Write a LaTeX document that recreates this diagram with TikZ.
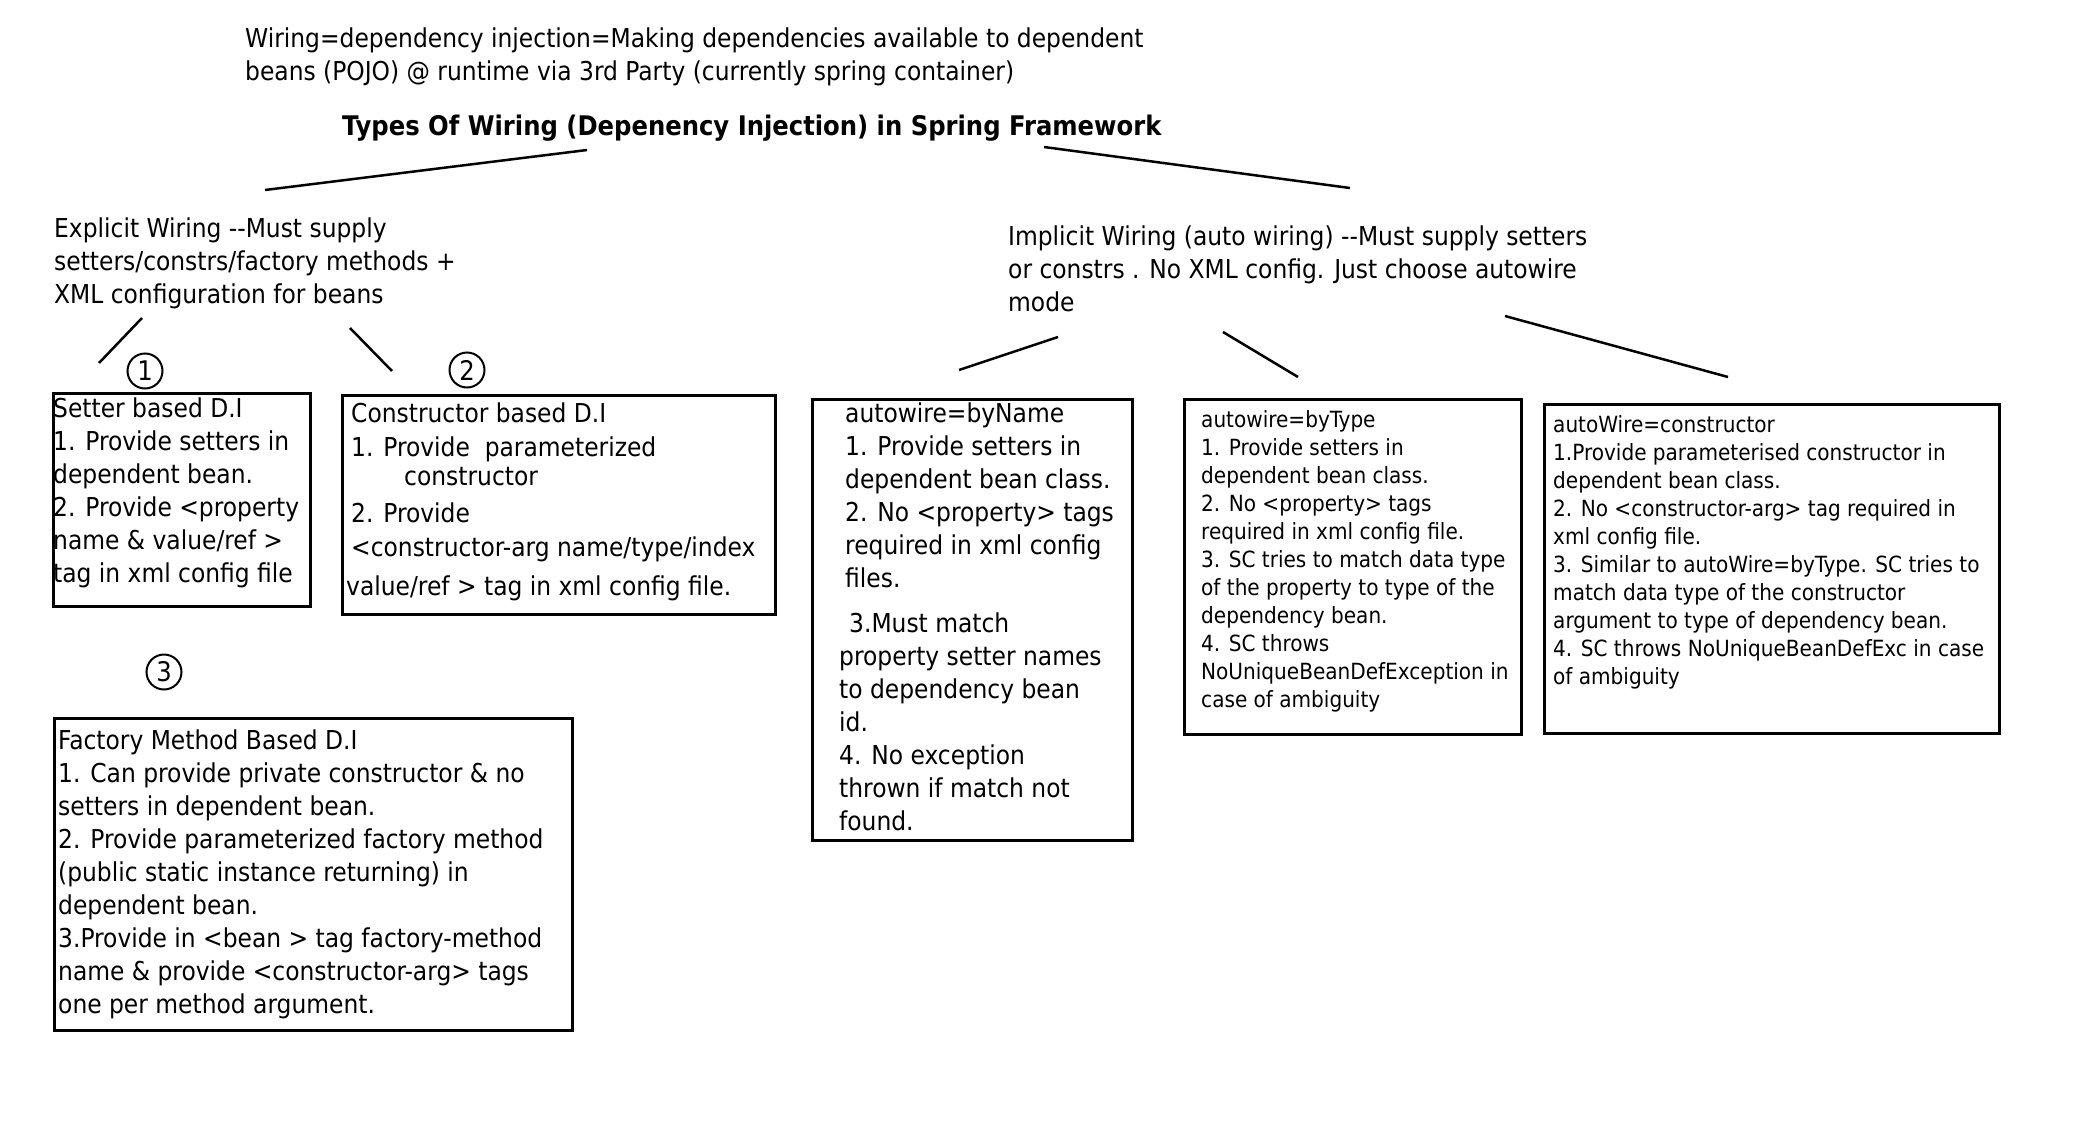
\documentclass[tikz,border=0pt]{standalone}
\usepackage{fontspec}
\setmainfont{DejaVu Sans Condensed}
\begin{document}
\begin{tikzpicture}[x=1pt,y=-1pt,
  box/.style={draw,line width=3pt,anchor=north west,inner sep=0pt},
  txt/.style={anchor=north west,inner sep=0pt,align=left,font=\fontsize{26}{33}\selectfont},
  stxt/.style={anchor=north west,inner sep=0pt,align=left,font=\fontsize{22.3}{28}\selectfont},
  link/.style={line width=2.5pt},
  num/.style={circle,draw,line width=2pt,minimum size=35pt,inner sep=0pt,font=\fontsize{27}{30}\selectfont}]
\useasboundingbox (0,0) rectangle (2079,1140);
\fill[white] (0,0) rectangle (2079,1140);

% headings
\node[txt] (intro) at (245,24) {\strut Wiring=dependency injection=Making dependencies available to dependent\\beans (POJO) @ runtime via 3rd Party (currently spring container)};
\node[txt,font=\fontsize{27}{33}\selectfont\bfseries] (title) at (342,112) {\strut Types Of Wiring (Depenency Injection) in Spring Framework};

\node[txt] (explicit) at (54,214) {\strut Explicit Wiring -{}-Must supply\\setters/constrs/factory methods +\\XML configuration for beans};
\node[txt] (implicit) at (1008,222) {\strut Implicit Wiring (auto wiring) -{}-Must supply setters\\or constrs . No XML config. Just choose autowire\\mode};

% connectors
\coordinate (a1) at (587,150); \coordinate (a2) at (265,190);
\coordinate (b1) at (1044,147); \coordinate (b2) at (1350,188);
\coordinate (c1) at (142,318); \coordinate (c2) at (99,363);
\coordinate (d1) at (350,328); \coordinate (d2) at (392,371);
\coordinate (e1) at (1058,337); \coordinate (e2) at (959,370);
\coordinate (f1) at (1223,332); \coordinate (f2) at (1298,377);
\coordinate (g1) at (1505,316); \coordinate (g2) at (1728,377);
\draw[link] (a1) -- (a2);
\draw[link] (b1) -- (b2);
\draw[link] (c1) -- (c2);
\draw[link] (d1) -- (d2);
\draw[link] (e1) -- (e2);
\draw[link] (f1) -- (f2);
\draw[link] (g1) -- (g2);

% numbers
\node[num] (n1) at (145,371) {1};
\node[num] (n2) at (467,370) {2};
\node[num] (n3) at (164,672) {3};

% setter
\node[box,minimum width=257pt,minimum height=213pt] (setterbox) at (52,392) {};
\node[txt] (setter) at (53,394) {\strut Setter based D.I\\1. Provide setters in\\dependent bean.\\2. Provide <property\\name \& value/ref >\\tag in xml config file};

% constructor
\node[box,minimum width=433pt,minimum height=219pt] (ctorbox) at (341,394) {};
\node[txt] (ctor) at (351,399) {\strut Constructor based D.I\\[1pt]1. Provide\ \ parameterized\\[-4pt]\hspace*{53pt}constructor\\[4pt]2. Provide\\[1pt]<constructor-arg name/type/index\\[6pt]\hspace*{-5pt}value/ref > tag in xml config file.};

% byName
\node[box,minimum width=320pt,minimum height=441pt] (bynamebox) at (811,398) {};
\node[txt] (byname) at (839,399) {\strut\hspace*{6pt}autowire=byName\\\hspace*{6pt}1. Provide setters in\\\hspace*{6pt}dependent bean class.\\\hspace*{6pt}2. No <property> tags\\\hspace*{6pt}required in xml config\\\hspace*{6pt}files.\\[12pt]\hspace*{10pt}3.Must match\\property setter names\\to dependency bean\\id.\\4. No exception\\thrown if match not\\found.};

% byType
\node[box,minimum width=337pt,minimum height=335pt] (bytypebox) at (1183,398) {};
\node[stxt] (bytype) at (1201,408) {\strut autowire=byType\\1. Provide setters in\\dependent bean class.\\2. No <property> tags\\required in xml config file.\\3. SC tries to match data type\\of the property to type of the\\dependency bean.\\4. SC throws\\NoUniqueBeanDefException in\\case of ambiguity};

% autowire constructor
\node[box,minimum width=455pt,minimum height=329pt] (autoctorbox) at (1543,403) {};
\node[stxt] (autoctor) at (1553,413) {\strut autoWire=constructor\\1.Provide parameterised constructor in\\dependent bean class.\\2. No <constructor-arg> tag required in\\xml config file.\\3. Similar to autoWire=byType. SC tries to\\match data type of the constructor\\argument to type of dependency bean.\\4. SC throws NoUniqueBeanDefExc in case\\of ambiguity};

% factory
\node[box,minimum width=518pt,minimum height=312pt] (factorybox) at (53,717) {};
\node[txt] (factory) at (58,726) {\strut Factory Method Based D.I\\1. Can provide private constructor \& no\\setters in dependent bean.\\2. Provide parameterized factory method\\(public static instance returning) in\\dependent bean.\\3.Provide in <bean > tag factory-method\\name \& provide <constructor-arg> tags\\one per method argument.};
\end{tikzpicture}
\end{document}
